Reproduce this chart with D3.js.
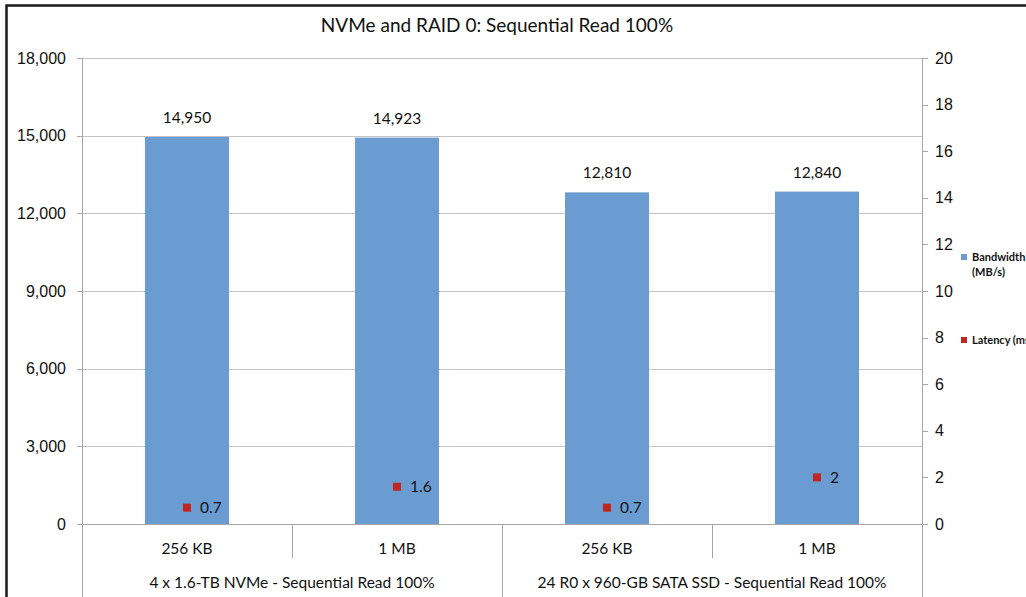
<!DOCTYPE html>
<meta charset="utf-8">
<head>
<style>
body {margin: 0; background: #fff; font-family: Lato, "Open Sans", sans-serif;}
svg text {fill: #111;}
.axis path, .axis line {stroke: #a6a6a6; fill: none; shape-rendering: crispEdges;}
.grid line {stroke: #c4c4c4; shape-rendering: crispEdges;}
</style>
</head>
<body>
<div id="chart"></div>
<script src="https://d3js.org/d3.v7.min.js"></script>
<script>

// data
var blockSizes = ["256 KB", "1 MB", "256 KB", "1 MB"];
var groups = ["4 x 1.6-TB NVMe - Sequential Read 100%", "24 R0 x 960-GB SATA SSD - Sequential Read 100%"];
var bandwidth = [14950, 14923, 12810, 12840];
var latency = [0.7, 1.6, 0.7, 2];
var leftTicks = [0, 3000, 6000, 9000, 12000, 15000, 18000];
var rightTicks = [0, 2, 4, 6, 8, 10, 12, 14, 16, 18, 20];

var W = 1026, H = 597;
var plot = {left: 82, right: 922, top: 58, bottom: 524};
var fs = "15.5px";

var svg = d3.select("#chart").append("svg")
    .attr("width", W)
    .attr("height", H);

// outer frame (runs off the right / bottom edge like the original)
svg.append("rect")
    .attr("x", 6.5).attr("y", 5.5)
    .attr("width", W + 20).attr("height", H + 20)
    .attr("fill", "#fff")
    .attr("stroke", "#1a1a1a")
    .attr("stroke-width", 2.5);

// scales
var x = d3.scaleBand().domain(d3.range(bandwidth.length))
    .range([plot.left, plot.right])
    .paddingInner(0.6).paddingOuter(0.3);
var xc = d3.scaleBand().domain(d3.range(bandwidth.length))
    .range([plot.left, plot.right]);
var y = d3.scaleLinear().domain([0, 18000]).range([plot.bottom, plot.top]);
var y2 = d3.scaleLinear().domain([0, 20]).range([plot.bottom, plot.top]);

// title
svg.append("text")
    .attr("x", 497).attr("y", 32)
    .attr("text-anchor", "middle")
    .style("font-size", "19px")
    .text("NVMe and RAID 0: Sequential Read 100%");

// gridlines
svg.append("g").attr("class", "grid")
  .selectAll("line")
  .data(leftTicks.slice(1))
  .enter().append("line")
    .attr("x1", plot.left).attr("x2", plot.right)
    .attr("y1", function(d) { return Math.round(y(d)) + 0.5; })
    .attr("y2", function(d) { return Math.round(y(d)) + 0.5; });

// left axis
var yAxis = d3.axisLeft(y).tickValues(leftTicks)
    .tickFormat(d3.format(",")).tickSize(5).tickPadding(11);
svg.append("g").attr("class", "axis")
    .attr("transform", "translate(" + plot.left + ",0)")
    .call(yAxis)
    .call(function(g) { g.selectAll("text").style("font-size", "16px").attr("fill", "#111"); });

// right axis
var yAxis2 = d3.axisRight(y2).tickValues(rightTicks)
    .tickSize(6).tickPadding(7);
svg.append("g").attr("class", "axis")
    .attr("transform", "translate(" + plot.right + ",0)")
    .call(yAxis2)
    .call(function(g) { g.selectAll("text").style("font-size", "16px").attr("fill", "#111"); });

// bars
svg.append("g").selectAll("rect")
    .data(bandwidth)
    .enter().append("rect")
    .attr("x", function(d, i) { return x(i); })
    .attr("width", x.bandwidth())
    .attr("y", function(d) { return y(d); })
    .attr("height", function(d) { return y(0) - y(d); })
    .attr("fill", "#6a9bd1");

// bar labels
svg.append("g").selectAll("text")
    .data(bandwidth)
    .enter().append("text")
    .attr("x", function(d, i) { return x(i) + x.bandwidth() / 2; })
    .attr("y", function(d) { return y(d) - 14; })
    .attr("text-anchor", "middle")
    .style("font-size", fs)
    .text(d3.format(","));

// latency markers
var lat = svg.append("g").selectAll("g")
    .data(latency)
    .enter().append("g")
    .attr("transform", function(d, i) {
      return "translate(" + (xc(i) + xc.bandwidth() / 2) + "," + y2(d) + ")";
    });
lat.append("rect")
    .attr("x", -4).attr("y", -4)
    .attr("width", 8).attr("height", 8)
    .attr("fill", "#c0281e");
lat.append("text")
    .attr("x", 13).attr("dy", "0.35em")
    .style("font-size", fs)
    .text(function(d) { return d; });

// x axis baseline and category dividers
var cat = svg.append("g").attr("class", "axis");
cat.append("line")
    .attr("x1", plot.left).attr("x2", plot.right)
    .attr("y1", plot.bottom + 0.5).attr("y2", plot.bottom + 0.5);
var dividers = d3.range(bandwidth.length + 1);
cat.selectAll(".div")
    .data(dividers)
    .enter().append("line")
    .attr("x1", function(d) { return Math.round(plot.left + d * xc.bandwidth()) + 0.5; })
    .attr("x2", function(d) { return Math.round(plot.left + d * xc.bandwidth()) + 0.5; })
    .attr("y1", plot.bottom)
    .attr("y2", function(d) { return d % 2 === 0 ? H : plot.bottom + 34; });

svg.append("g").selectAll("text")
    .data(blockSizes)
    .enter().append("text")
    .attr("x", function(d, i) { return xc(i) + xc.bandwidth() / 2; })
    .attr("y", 554)
    .attr("text-anchor", "middle")
    .style("font-size", fs)
    .text(function(d) { return d; });

svg.append("g").selectAll("text")
    .data(groups)
    .enter().append("text")
    .attr("x", function(d, i) { return plot.left + (i * 2 + 1) * xc.bandwidth(); })
    .attr("y", 588)
    .attr("text-anchor", "middle")
    .style("font-size", fs)
    .text(function(d) { return d; });

// legend
var legend = [
  {label: ["Bandwidth", "(MB/s)"], color: "#6a9bd1", y: 257},
  {label: ["Latency (ms)"], color: "#c0281e", y: 340}
];
var lg = svg.append("g").selectAll("g")
    .data(legend)
    .enter().append("g")
    .attr("transform", function(d) { return "translate(961," + d.y + ")"; });
lg.append("rect")
    .attr("x", 0).attr("y", -3)
    .attr("width", 6).attr("height", 6)
    .attr("fill", function(d) { return d.color; });
lg.append("text")
    .style("font-size", "11px")
    .style("font-weight", "bold")
    .selectAll("tspan")
    .data(function(d) { return d.label; })
    .enter().append("tspan")
    .attr("x", 11)
    .attr("y", function(d, i) { return i * 15; })
    .attr("dy", "0.35em")
    .text(function(d) { return d; });

</script>
</body>
